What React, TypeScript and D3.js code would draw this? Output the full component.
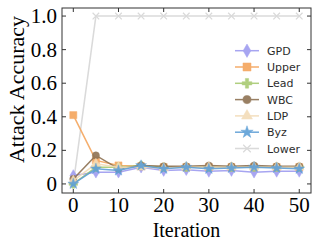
import React, { useEffect, useRef } from "react";
import * as d3 from "d3";

const iterations = [0, 5, 10, 15, 20, 25, 30, 35, 40, 45, 50];
const gpd = [0.05, 0.07, 0.07, 0.1, 0.08, 0.085, 0.075, 0.08, 0.07, 0.075, 0.075];
const upper = [0.41, 0.14, 0.11, 0.105, 0.1, 0.1, 0.1, 0.1, 0.1, 0.1, 0.1];
const lead = [0.0, 0.1, 0.1, 0.11, 0.1, 0.1, 0.1, 0.1, 0.1, 0.1, 0.1];
const wbc = [0.03, 0.17, 0.09, 0.11, 0.105, 0.105, 0.11, 0.105, 0.11, 0.105, 0.105];
const ldp = [0.02, 0.12, 0.1, 0.1, 0.095, 0.1, 0.1, 0.1, 0.1, 0.1, 0.1];
const byz = [0.0, 0.09, 0.08, 0.11, 0.09, 0.1, 0.09, 0.095, 0.1, 0.095, 0.09];
const lower = [0.0, 1.0, 1.0, 1.0, 1.0, 1.0, 1.0, 1.0, 1.0, 1.0, 1.0];

const xTicks = [0, 10, 20, 30, 40, 50];
const yTicks = [0, 0.2, 0.4, 0.6, 0.8, 1.0];

const series = [
  { name: "GPD", values: gpd, color: "#9e9cf0", symbol: d3.symbolDiamond },
  { name: "Upper", values: upper, color: "#f5a55c", symbol: d3.symbolSquare },
  { name: "Lead", values: lead, color: "#a8ca72", symbol: d3.symbolCross },
  { name: "WBC", values: wbc, color: "#8e7253", symbol: d3.symbolCircle },
  { name: "LDP", values: ldp, color: "#f3dcb8", symbol: d3.symbolTriangle },
  { name: "Byz", values: byz, color: "#5d9fd6", symbol: d3.symbolStar },
  { name: "Lower", values: lower, color: "#d6d6d6", symbol: d3.symbolX },
];

// marker area per symbol
function markSize(sym: any) {
  if (sym === d3.symbolX) return 30;
  if (sym === d3.symbolStar) return 36;
  if (sym === d3.symbolSquare) return 50;
  if (sym === d3.symbolDiamond) return 40;
  return 40;
}

const App = () => {
  const ref = useRef<SVGSVGElement>(null);
  const [width, height] = [319, 248];
  const m = { left: 62, right: 311, top: 8, bottom: 193 };

  useEffect(() => {
    const svg = d3.select(ref.current);
    svg.selectAll("*").remove();

    const x = d3.scaleLinear().domain([-2.5, 52.6]).range([m.left, m.right]);
    const y = d3.scaleLinear().domain([-0.054, 1.048]).range([m.bottom, m.top]);

    // draw the lines, lower first so it sits behind
    const order = [6, 0, 1, 2, 3, 4, 5];
    order.forEach((i) => {
      const s = series[i];
      const line = d3
        .line<number>()
        .x((d, j) => x(iterations[j]))
        .y((d) => y(d));
      const g = svg.append("g").attr("opacity", 0.9);
      g.append("path")
        .datum(s.values)
        .attr("d", line)
        .attr("fill", "none")
        .attr("stroke", s.color)
        .attr("stroke-width", 1.5);
      g.selectAll("path.m")
        .data(s.values)
        .enter()
        .append("path")
        .attr("class", "m")
        .attr("d", d3.symbol().type(s.symbol).size(markSize(s.symbol))())
        .attr("transform", (d, j) => `translate(${x(iterations[j])},${y(d)})`)
        .attr("fill", s.symbol === d3.symbolX ? "none" : s.color)
        .attr("stroke", s.color)
        .attr("stroke-width", s.symbol === d3.symbolX ? 1.2 : 0.5);
    });

    // frame
    svg.append("rect")
      .attr("x", m.left)
      .attr("y", m.top)
      .attr("width", m.right - m.left)
      .attr("height", m.bottom - m.top)
      .attr("fill", "none")
      .attr("stroke", "#333")
      .attr("stroke-width", 1);

    // ticks on all sides, pointing in
    const tk = 4;
    xTicks.forEach((t) => {
      svg.append("line").attr("x1", x(t)).attr("x2", x(t)).attr("y1", m.bottom).attr("y2", m.bottom - tk).attr("stroke", "#333");
      svg.append("line").attr("x1", x(t)).attr("x2", x(t)).attr("y1", m.top).attr("y2", m.top + tk).attr("stroke", "#333");
      svg.append("text")
        .attr("x", x(t))
        .attr("y", 212)
        .attr("text-anchor", "middle")
        .attr("font-family", "Liberation Serif")
        .attr("font-size", 21)
        .text(t);
    });
    yTicks.forEach((t) => {
      svg.append("line").attr("x1", m.left).attr("x2", m.left + tk).attr("y1", y(t)).attr("y2", y(t)).attr("stroke", "#333");
      svg.append("line").attr("x1", m.right).attr("x2", m.right - tk).attr("y1", y(t)).attr("y2", y(t)).attr("stroke", "#333");
      svg.append("text")
        .attr("x", m.left - 5)
        .attr("y", y(t) + 7)
        .attr("text-anchor", "end")
        .attr("font-family", "Liberation Serif")
        .attr("font-size", 21)
        .text(t === 0 ? "0" : t.toFixed(1));
    });

    svg.append("text")
      .attr("x", (m.left + m.right) / 2)
      .attr("y", 237)
      .attr("text-anchor", "middle")
      .attr("font-family", "Liberation Serif")
      .attr("font-size", 20)
      .text("Iteration");

    svg.append("text")
      .attr("transform", `translate(24,89.5) rotate(-90)`)
      .attr("text-anchor", "middle")
      .attr("font-family", "Liberation Serif")
      .attr("font-size", 22)
      .text("Attack Accuracy");

    // legend
    const leg = svg.append("g").attr("opacity", 0.9);
    series.forEach((s, i) => {
      const ly = 50.7 + i * 16.3;
      leg.append("line").attr("x1", 235).attr("x2", 259).attr("y1", ly).attr("y2", ly).attr("stroke", s.color).attr("stroke-width", 1.5);
      leg.append("path")
        .attr("d", d3.symbol().type(s.symbol).size(markSize(s.symbol) * 1.3)())
        .attr("transform", `translate(247,${ly})`)
        .attr("fill", s.symbol === d3.symbolX ? "none" : s.color)
        .attr("stroke", s.color)
        .attr("stroke-width", s.symbol === d3.symbolX ? 1.2 : 0.5);
      leg.append("text")
        .attr("x", 267)
        .attr("y", ly + 4)
        .attr("font-family", "DejaVu Sans")
        .attr("font-size", 11)
        .attr("fill", "#111")
        .text(s.name);
    });
  }, []);

  return <svg ref={ref} width={width} height={height} style={{ position: "absolute", left: 0, top: 0 }} />;
};

export default App;
